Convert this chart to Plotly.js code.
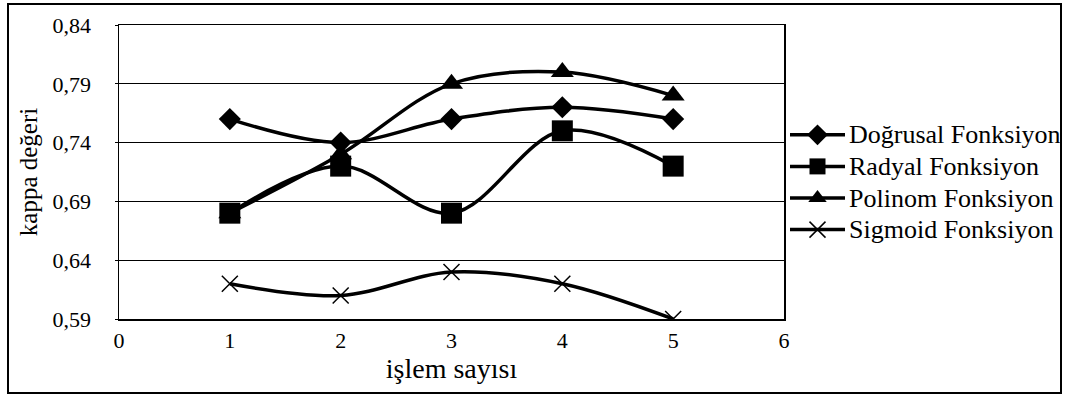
<!DOCTYPE html>
<html>
<head>
<meta charset="utf-8">
<script src="https://cdn.plot.ly/plotly-3.0.1.min.js"></script>
<style>
html,body{margin:0;padding:0;background:#fff;}
#chart{width:1068px;height:398px;}
</style>
</head>
<body>
<div id="chart"></div>
<script>
// Data
const xValues = [1, 2, 3, 4, 5];
const seriesNames = ["Doğrusal Fonksiyon", "Radyal Fonksiyon", "Polinom Fonksiyon", "Sigmoid Fonksiyon"];
const dogrusal = [0.76, 0.74, 0.76, 0.77, 0.76];
const radyal   = [0.68, 0.72, 0.68, 0.75, 0.72];
const polinom  = [0.68, 0.73, 0.79, 0.80, 0.78];
const sigmoid  = [0.62, 0.61, 0.63, 0.62, 0.59];
const yTicks = [0.59, 0.64, 0.69, 0.74, 0.79, 0.84];
const xTicks = [0, 1, 2, 3, 4, 5, 6];

const FONT = "Liberation Serif";

function legendName(n) { return '<span style="font-size:26px">' + n + '</span>'; }

function trace(name, y, symbol, size, rank, extra) {
  return Object.assign({
    type: "scatter", mode: "lines+markers", name: legendName(name), x: xValues, y: y,
    line: {color: "#000", width: 3.5, shape: "spline", smoothing: 1},
    marker: {symbol: symbol, size: size, color: "#000"},
    legendrank: rank
  }, extra || {});
}

const data = [
  trace(seriesNames[2], polinom, "triangle-up", 20, 3),
  trace(seriesNames[0], dogrusal, "diamond", 17, 1),
  trace(seriesNames[1], radyal, "square", 21, 2),
  trace(seriesNames[3], sigmoid, "x-thin", 16, 4, {marker: {symbol: "x-thin", size: 16, color: "#000", line: {color: "#000", width: 1.5}}})
];

const L = 119, R = 784, T = 25, B = 319, W = 1068, H = 398;
const pw = R - L, ph = B - T;
function px(x) { return (x - L) / pw; }
function py(y) { return (B - y) / ph; }

const layout = {
  width: W, height: H,
  margin: {l: L, r: W - R, t: T, b: H - B, pad: 0, autoexpand: false},
  paper_bgcolor: "#fff", plot_bgcolor: "#fff",
  separators: ", ",
  font: {family: FONT, color: "#000", size: 22},
  showlegend: true,
  legend: {
    x: px(785), y: py(114), xanchor: "left", yanchor: "top",
    font: {family: FONT, size: 22, color: "#000"},
    bgcolor: "rgba(0,0,0,0)", borderwidth: 0,
    traceorder: "normal", itemwidth: 54, tracegroupgap: 0
  },
  xaxis: {
    range: [0, 6], tickvals: xTicks, ticktext: xTicks.map(String),
    showgrid: false, zeroline: false, automargin: false,
    showline: true, linecolor: "#000", linewidth: 1.5, mirror: true,
    ticks: "", tickfont: {family: FONT, size: 22, color: "#000"},
    ticklabelstandoff: 1,
    title: {text: "işlem sayısı", font: {family: FONT, size: 28, color: "#000"}, standoff: 3}
  },
  yaxis: {
    range: [0.59, 0.84], tickvals: yTicks, tickformat: ".2f",
    showgrid: true, gridcolor: "#000", gridwidth: 1.2, zeroline: false, automargin: false,
    showline: true, linecolor: "#000", linewidth: 1.5, mirror: true,
    ticks: "outside", ticklen: 3, tickcolor: "#000",
    tickfont: {family: FONT, size: 22, color: "#000"},
    ticklabelstandoff: 19,
    title: {text: "kappa değeri", font: {family: FONT, size: 25, color: "#000"}, standoff: 8}
  },
  shapes: [{
    type: "rect", xref: "paper", yref: "paper",
    x0: px(8), x1: px(1061), y0: py(393), y1: py(4),
    line: {color: "#000", width: 2}, fillcolor: "rgba(0,0,0,0)", layer: "below"
  }]
};

const gd = document.getElementById("chart");
Plotly.newPlot(gd, data, layout, {displayModeBar: false, staticPlot: true}).then(function () {
  // lengthen legend sample lines like the reference
  gd.querySelectorAll(".legend .legendlines path").forEach(function (p) { p.setAttribute("d", "M5,0h55"); });
  gd.querySelectorAll(".legend .legendpoints path").forEach(function (p) { p.setAttribute("transform", "translate(32.5,0)"); });
});
</script>
</body>
</html>
